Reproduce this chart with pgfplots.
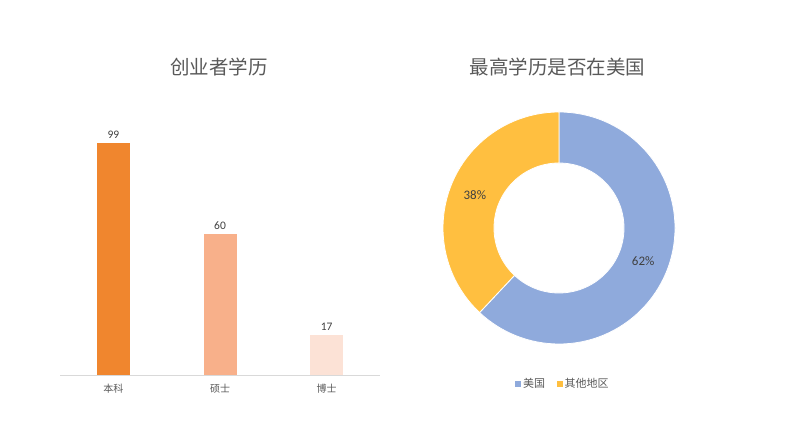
\documentclass[border=0pt]{standalone}
\usepackage{pgfplots}
\pgfplotsset{compat=1.18}
\usepackage{pgfplotstable}
\usepackage{fontspec}
\setmainfont{Carlito}
\newfontfamily\cjk{Noto Sans CJK SC}
\definecolor{barA}{HTML}{F0862E}
\definecolor{barB}{HTML}{F8B08A}
\definecolor{barC}{HTML}{FCE2D6}
\definecolor{blueS}{HTML}{8FAADC}
\definecolor{yelS}{HTML}{FFBF40}
\definecolor{txt}{HTML}{595959}
\definecolor{lbl}{HTML}{404040}
\definecolor{axl}{HTML}{D9D9D9}
\pgfplotstableread{
x y
0 99
}\tabA
\pgfplotstableread{
x y
1 60
}\tabB
\pgfplotstableread{
x y
2 17
}\tabC
\begin{document}
\begin{tikzpicture}[x=1pt,y=1pt]
\useasboundingbox (0,0) rectangle (800,441);
\node[text=txt,font=\cjk\fontsize{19.5}{22}\selectfont] at (219,374) {创业者学历};
\node[text=txt,font=\cjk\fontsize{19.5}{22}\selectfont] at (557.5,374) {最高学历是否在美国};
% bar chart
\begin{axis}[
  at={(60pt,66pt)}, anchor=south west,
  scale only axis, width=320pt, height=250.7pt,
  xmin=-0.5, xmax=2.5, ymin=0, ymax=107,
  axis x line=bottom, axis y line=none,
  x axis line style={draw=axl,line width=0.8pt,-},
  xtick={0,1,2}, xticklabels={本科,硕士,博士},
  xtick style={draw=none},
  xticklabel style={font=\cjk\fontsize{10}{12}\selectfont,text=txt,yshift=-1pt},
  ytick=\empty,
  ybar, bar width=33pt, bar shift=0pt,
  /pgf/number format/assume math mode=true,
  nodes near coords,
  every node near coord/.append style={font=\fontsize{11.5}{13}\selectfont,text=lbl,yshift=1pt},
  clip=false,
]
\addplot[fill=barA,draw=none] table[x=x,y=y] {\tabA};
\addplot[fill=barB,draw=none] table[x=x,y=y] {\tabB};
\addplot[fill=barC,draw=none] table[x=x,y=y] {\tabC};
\end{axis}
% donut chart
\pgfmathsetmacro{\vA}{62}
\pgfmathsetmacro{\vB}{38}
\pgfmathsetmacro{\tot}{\vA+\vB}
\pgfmathsetmacro{\aS}{90}
\pgfmathsetmacro{\aM}{90-360*(\vA/\tot)}
\pgfmathsetmacro{\aE}{90-360}
\pgfmathsetmacro{\mA}{(\aS+\aM)/2}
\pgfmathsetmacro{\mB}{(\aM+\aE)/2}
\def\Ro{116}
\def\Ri{65}
\begin{axis}[
  at={(559pt,213pt)}, anchor=center,
  x=1pt, y=1pt, xmin=-120, xmax=120, ymin=-120, ymax=120,
  hide axis, clip=false,
  legend style={at={(axis cs:4,-156)},anchor=center,draw=none,fill=none,
    font=\cjk\fontsize{11}{13}\selectfont,text=txt,legend columns=-1,
    /tikz/every even column/.append style={column sep=10pt},
    inner sep=0pt, cells={anchor=west}},
  legend image code/.code={\fill[#1] (0pt,-2.8pt) rectangle (5.6pt,2.8pt);},
]
\fill[blueS,draw=white,line width=0.8pt]
  (axis cs:{\Ro*cos(\aS)},{\Ro*sin(\aS)}) arc[start angle=\aS,end angle=\aM,radius=\Ro pt]
  -- (axis cs:{\Ri*cos(\aM)},{\Ri*sin(\aM)}) arc[start angle=\aM,end angle=\aS,radius=\Ri pt] -- cycle;
\fill[yelS,draw=white,line width=0.8pt]
  (axis cs:{\Ro*cos(\aM)},{\Ro*sin(\aM)}) arc[start angle=\aM,end angle=\aE,radius=\Ro pt]
  -- (axis cs:{\Ri*cos(\aE)},{\Ri*sin(\aE)}) arc[start angle=\aE,end angle=\aM,radius=\Ri pt] -- cycle;
\node[text=lbl,font=\fontsize{13}{15}\selectfont] at (axis cs:{90.5*cos(\mA)},{90.5*sin(\mA)}) {62\%};
\node[text=lbl,font=\fontsize{13}{15}\selectfont] at (axis cs:{90.5*cos(\mB)},{90.5*sin(\mB)}) {38\%};
\addlegendimage{fill=blueS,draw=none}
\addlegendentry{美国}
\addlegendimage{fill=yelS,draw=none}
\addlegendentry{其他地区}
\end{axis}
\end{tikzpicture}
\end{document}
